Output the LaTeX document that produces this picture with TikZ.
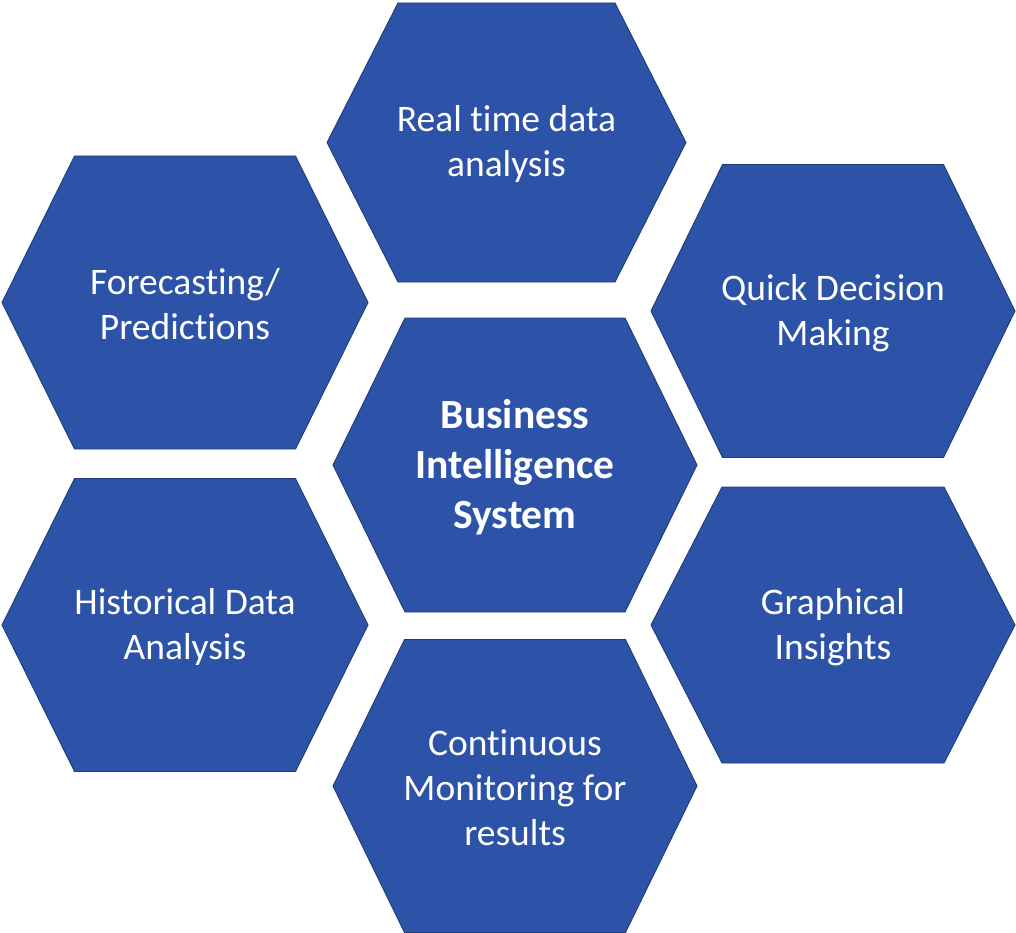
\documentclass[tikz,border=0pt]{standalone}
\usepackage{fontspec}
\setmainfont{Carlito}[Ligatures={NoCommon}]
\usepackage{tikz}
\usetikzlibrary{positioning}

\definecolor{hexfill}{HTML}{2D53A8}
\definecolor{hexedge}{HTML}{203D7A}

% hexagon cell: name, centre x, centre y, half width, half flat, half height, text
\newcommand\hexcell[7]{%
  \filldraw[hexcell] (#2-#4,#3) -- (#2-#5,#3-#6) -- (#2+#5,#3-#6) -- (#2+#4,#3)
    -- (#2+#5,#3+#6) -- (#2-#5,#3+#6) -- cycle;
  \node[hexlabel] (#1) at (#2,#3+2) {#7};
}

\begin{document}
\begin{tikzpicture}[x=1pt, y=-1pt]
		\tikzset{hexcell/.style={fill=hexfill,draw=hexedge,line width=0.9pt,line join=miter},
			hexlabel/.style={text=white,align=center,inner sep=0pt,font=\fontsize{37.5}{45}\selectfont}}

		\useasboundingbox (0,0) rectangle (1016,933);

		% centre
		\hexcell{bisys}{515}{465}{182}{110}{147}{}
		\node[hexlabel, font=\fontsize{41.5}{50}\selectfont\bfseries] at (bisys) {Business\\Intelligence\\System};

		% ring
		\hexcell{realtime}{506.5}{142.5}{179.5}{108.5}{139.5}{Real time data\\analysis}
		\hexcell{forecast}{185}{302.5}{183}{110.5}{146.5}{Forecasting/\\Predictions}
		\hexcell{quickdec}{833}{311}{182}{110.5}{146.5}{Quick Decision\\Making}
		\hexcell{histdata}{185}{625}{183}{110.5}{146.5}{Historical Data\\Analysis}
		\hexcell{graphins}{833}{625}{182}{111}{138}{Graphical\\Insights}
		\hexcell{monitor}{515}{786}{182}{110.5}{146.5}{Continuous\\Monitoring for\\results}

	\end{tikzpicture}
\end{document}
